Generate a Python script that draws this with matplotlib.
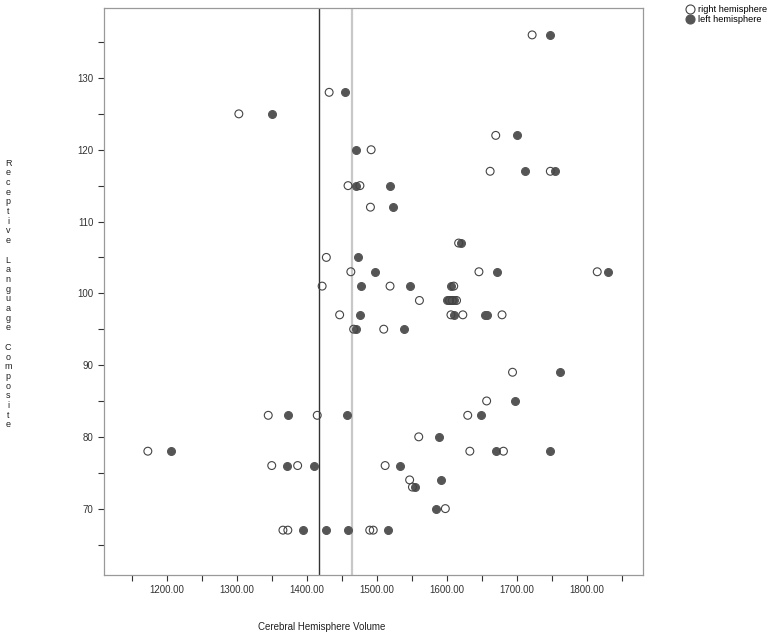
import matplotlib
matplotlib.use('Agg')
import matplotlib.pyplot as plt
from matplotlib.lines import Line2D

plt.rcParams['font.family'] = ['Liberation Sans', 'DejaVu Sans']

# Receptive Language Composite score per subject, with hemisphere volumes
right_y = [136, 128, 125, 122, 120, 117, 117, 115, 115, 112, 107, 105,
           103, 103, 103, 101, 101, 101, 99, 99, 99, 99, 97, 97, 97, 97,
           95, 95, 89, 85, 83, 83, 83, 80, 78, 78, 78, 76, 76, 76, 74, 73,
           70, 67, 67, 67, 67]
right_x = [1722, 1432, 1303, 1670, 1492, 1662, 1748, 1459, 1476, 1491, 1617, 1428,
           1463, 1646, 1815, 1422, 1519, 1610, 1561, 1604, 1608, 1614, 1447, 1606, 1623, 1679,
           1467, 1510, 1694, 1657, 1345, 1415, 1630, 1560, 1173, 1633, 1681, 1350, 1387, 1512, 1547, 1551,
           1598, 1366, 1373, 1490, 1495]

left_y = [136, 128, 125, 122, 120, 117, 117, 115, 115, 112, 107, 105,
          103, 103, 103, 101, 101, 101, 99, 99, 99, 99, 97, 97, 97, 97,
          95, 95, 89, 85, 83, 83, 83, 80, 78, 78, 78, 76, 76, 76, 74, 73,
          70, 67, 67, 67, 67]
left_x = [1748, 1455, 1351, 1701, 1470, 1712, 1754, 1470, 1519, 1523, 1620, 1473,
          1497, 1672, 1831, 1477, 1548, 1606, 1600, 1603, 1607, 1611, 1476, 1610, 1655, 1657,
          1470, 1539, 1762, 1697, 1373, 1458, 1649, 1589, 1206, 1670, 1747, 1372, 1410, 1533, 1592, 1554,
          1584, 1394, 1427, 1459, 1516]

ref_dark = 1418
ref_gray = 1464

fig = plt.figure(figsize=(7.74, 6.36), dpi=100)
ax = fig.add_axes([0.1344, 0.0959, 0.6960, 0.8921])

ax.axvline(ref_dark, color='#333333', lw=1.0, zorder=1)
ax.axvline(ref_gray, color='#c8c8c8', lw=1.6, zorder=1)

ax.scatter(left_x, left_y, s=32, color='#555555', edgecolors='#555555', linewidths=0.8, zorder=3)
ax.scatter(right_x, right_y, s=32, facecolors='none', edgecolors='#444444', linewidths=0.8, zorder=4)

ax.set_xlim(1110.4, 1880)
ax.set_ylim(60.75, 139.8)

xt = list(range(1150, 1851, 50))
ax.set_xticks(xt)
ax.set_xticklabels(['%.2f' % v if v % 100 == 0 else '' for v in xt])
yt = list(range(65, 136, 5))
ax.set_yticks(yt)
ax.set_yticklabels([str(v) if v % 10 == 0 else '' for v in yt])
ax.tick_params(labelsize=7, colors='#333333', length=4, width=0.8, direction='out')
for sp in ax.spines.values():
    sp.set_color('#999999')
    sp.set_linewidth(0.9)

fig.text(322 / 774, 1 - 627 / 636, 'Cerebral Hemisphere Volume', fontsize=7,
         ha='center', va='center', color='#222222')
fig.text(8 / 774, 1 - 294 / 636, '\n'.join(list('Receptive Language Composite')),
         fontsize=6.5, linespacing=1.1, ha='center', va='center', color='#222222')

handles = [Line2D([], [], ls='none', marker='o', ms=6.5, mfc='white', mec='#444444', mew=0.8),
           Line2D([], [], ls='none', marker='o', ms=6.5, mfc='#555555', mec='#555555', mew=0.8)]
fig.legend(handles, ['right hemisphere', 'left hemisphere'], loc='upper left',
           bbox_to_anchor=(0.886, 0.992), frameon=False, fontsize=6.7, handlelength=1.0,
           handletextpad=0.3, labelspacing=0.1, borderpad=0, borderaxespad=0)

fig.savefig('out.png', dpi=100)
